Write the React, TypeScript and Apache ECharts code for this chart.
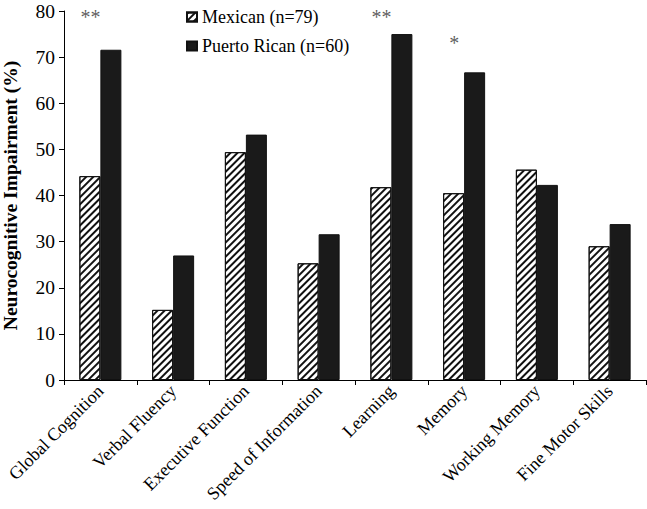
import React, { useEffect, useRef } from "react";
import * as echarts from "echarts";

const categories = [
  "Global Cognition",
  "Verbal Fluency",
  "Executive Function",
  "Speed of Information",
  "Learning",
  "Memory",
  "Working Memory",
  "Fine Motor Skills",
];
const mexican = [44.2, 15.2, 49.4, 25.3, 41.8, 40.5, 45.6, 29.0];
const puertoRican = [71.6, 27.0, 53.2, 31.6, 75.0, 66.7, 42.3, 33.8];
const sigMarks = ["**", "", "", "", "**", "*", "", ""];
const sigLevels = [78.8, null, null, null, 78.8, 73.0, null, null];
const yTicks = [0, 10, 20, 30, 40, 50, 60, 70, 80];

const FONT = "'Liberation Serif', 'Times New Roman', serif";

export default function App() {
  const ref = useRef<HTMLDivElement>(null);
  useEffect(() => {
    if (!ref.current) return;
    const chart = echarts.init(ref.current, undefined, { renderer: "svg" });
    chart.setOption({
      animation: false,
      textStyle: { fontFamily: FONT, color: "#000" },
      legend: {
        orient: "vertical",
        left: 181,
        top: 3,
        itemWidth: 10,
        itemHeight: 9,
        itemGap: 11,
        icon: "rect",
        textStyle: { fontFamily: FONT, fontSize: 18, color: "#000" },
        data: ["Mexican (n=79)", "Puerto Rican (n=60)"],
      },
      grid: {
        left: 64,
        right: 1,
        top: 11,
        bottom: 129,
        containLabel: false,
        outerBoundsMode: "none",
      },
      xAxis: {
        type: "category",
        data: categories,
        axisLine: { lineStyle: { color: "#000", width: 1 } },
        axisTick: { show: true, length: 5, lineStyle: { color: "#000" } },
        axisLabel: {
          rotate: 45,
          fontFamily: FONT,
          fontSize: 18,
          color: "#000",
          margin: 8,
          interval: 0,
        },
      },
      yAxis: {
        type: "value",
        min: 0,
        max: 80,
        interval: 10,
        name: "Neurocognitive Impairment (%)",
        nameLocation: "middle",
        nameGap: 44,
        nameTextStyle: { fontFamily: FONT, fontSize: 19.5, fontWeight: "bold", color: "#000" },
        axisLine: { show: true, lineStyle: { color: "#000", width: 1 } },
        axisTick: { show: true, length: 5, lineStyle: { color: "#000" } },
        axisLabel: {
          fontFamily: FONT,
          fontSize: 19.5,
          lineHeight: 16,
          color: "#000",
          margin: 9,
          formatter: (v: number) => (yTicks.includes(v) ? String(v) : ""),
        },
        splitLine: { show: false },
      },
      series: [
        {
          name: "Mexican (n=79)",
          type: "bar",
          data: mexican,
          barWidth: 21,
          barGap: "0%",
          itemStyle: {
            color: "#fff",
            borderColor: "#111",
            borderWidth: 1,
            decal: {
              symbol: "rect",
              color: "#111",
              backgroundColor: "#fff",
              dashArrayX: [1, 0],
              dashArrayY: [2, 2.5],
              rotation: -Math.PI / 4,
              symbolSize: 1,
            },
          },
        },
        {
          name: "Puerto Rican (n=60)",
          type: "bar",
          data: puertoRican,
          barWidth: 21,
          barGap: "0%",
          itemStyle: { color: "#1a1a1a", borderColor: "#111", borderWidth: 1 },
        },
        {
          type: "scatter",
          data: sigLevels,
          symbolSize: 0,
          silent: true,
          label: {
            show: true,
            position: "inside",
            offset: [-10, 0],
            fontFamily: FONT,
            fontSize: 20,
            color: "#333",
            formatter: (p: any) => sigMarks[p.dataIndex],
          },
        },
      ],
    });
    return () => chart.dispose();
  }, []);
  return (
    <div
      ref={ref}
      style={{ position: "absolute", left: 0, top: 0, width: 647, height: 509 }}
    />
  );
}
